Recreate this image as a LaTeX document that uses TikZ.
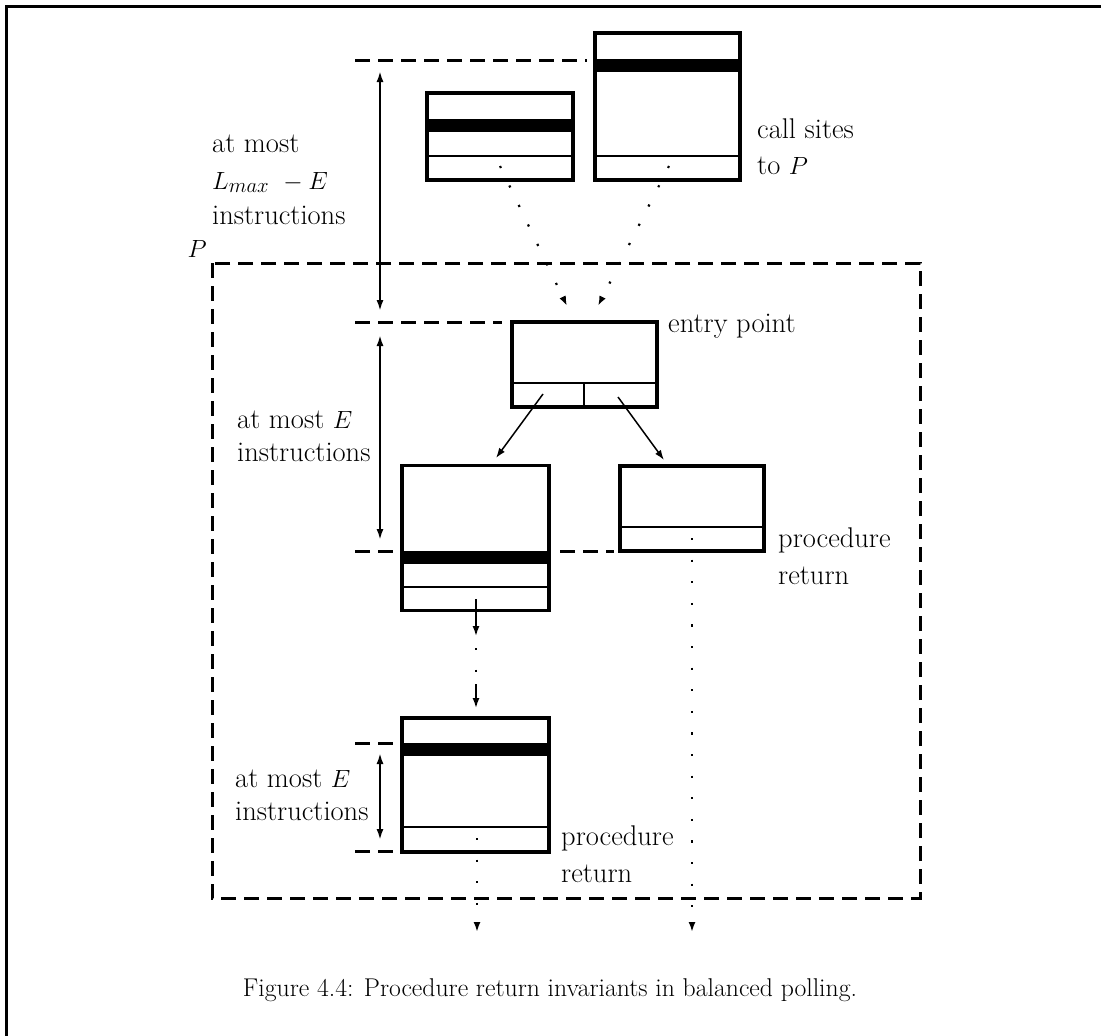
\documentclass[tikz,border=0pt]{standalone}
\usepackage{fontspec}
\usetikzlibrary{arrows.meta}
\begin{document}
\begin{tikzpicture}[x=1pt,y=-1pt,
  every node/.style={font=\fontsize{28.5}{34}\selectfont, inner sep=0pt},
  blk/.style={draw, line width=3.2pt, rectangle, inner sep=0pt},
  sep/.style={line width=2.8pt},
  guide/.style={line width=3pt, dash pattern=on 15pt off 8pt},
  dots/.style={line width=2.2pt, dash pattern=on 2.2pt off 19.4pt},
  tip/.style={-{Latex[length=10pt,width=7pt]}},
  measure/.style={line width=2pt, {Latex[length=11pt,width=7pt]}-{Latex[length=11pt,width=7pt]}},
  flow/.style={line width=1.5pt, tip},
  lbl/.style={anchor=mid west}
]
\useasboundingbox (0,0) rectangle (1101,1036);
% page frame
\draw[line width=3pt] (6,1036) -- (6,6) -- (1101,6);

% call sites
\node[blk, minimum width=146pt, minimum height=87pt] (cs1) at (500,136.5) {};
\fill (cs1.west |- 0,119) rectangle (cs1.east |- 0,132);
\draw[sep] (cs1.west |- 0,156) -- (cs1.east |- 0,156);
\node[blk, minimum width=145pt, minimum height=147pt] (cs2) at (667.5,106.5) {};
\fill (cs2.west |- 0,59) rectangle (cs2.east |- 0,72);
\draw[sep] (cs2.west |- 0,156) -- (cs2.east |- 0,156);
\coordinate (cs1dot) at (500,166);
\coordinate (cs2dot) at (669,166);
\node[lbl] (callA) at (757,136) {call sites};
\node[lbl] (callB) at (757,172) {to $P$};

% procedure P
\draw[guide] (212,263) rectangle (920,898);
\node[lbl, anchor=mid east] (pname) at (207,255) {$P$};

% upper bound before the entry point
\coordinate (g1a) at (355,60);
\coordinate (g1b) at (587,60);
\draw[guide] (g1a) -- (g1b);
\coordinate (g2a) at (355,322);
\coordinate (g2b) at (502,322);
\draw[guide] (g2a) -- (g2b);
\draw[measure] (380,71) -- (380,311);
\node[lbl] (lmA) at (212,150) {at most};
\node[lbl] (lmB) at (212,187) {$L_{max}\ - E$};
\node[lbl] (lmC) at (212,222) {instructions};

% entry point
\node[blk, minimum width=145pt, minimum height=85pt] (entry) at (584.5,364.5) {};
\draw[sep] (entry.west |- 0,383) -- (entry.east |- 0,383);
\draw[sep] (584,383) -- (entry.south -| 584,0);
\node[lbl] (entrylbl) at (668,330) {entry point};
\draw[dots, tip] (cs1dot) -- (567,306);
\draw[dots, tip] (cs2dot) -- (598,306);

% first-level blocks
\node[blk, minimum width=147pt, minimum height=145pt] (b3) at (475.5,538) {};
\fill (b3.west |- 0,551) rectangle (b3.east |- 0,564);
\draw[sep] (b3.west |- 0,587) -- (b3.east |- 0,587);
\node[blk, minimum width=144pt, minimum height=85pt] (b4) at (692,508.5) {};
\draw[sep] (b4.west |- 0,527) -- (b4.east |- 0,527);
\coordinate (eL) at (543,394);
\coordinate (eR) at (618,397);
\draw[flow] (eL) -- (496,458);
\draw[flow] (eR) -- (664,460);

\draw[measure] (380,335) -- (380,540);
\node[lbl] (meA) at (237,426) {at most $E$};
\node[lbl] (meB) at (237,459) {instructions};
\coordinate (g3a) at (355,551);
\coordinate (g3b) at (394,551);
\draw[guide] (g3a) -- (g3b);
\coordinate (g4a) at (560,551);
\coordinate (g4b) at (614,551);
\draw[guide] (g4a) -- (g4b);
\node[lbl] (ret1A) at (778,545) {procedure};
\node[lbl] (ret1B) at (778,582) {return};

% chain down to the last block
\coordinate (c1) at (476,599);
\coordinate (c2) at (476,636);
\coordinate (c3) at (476,684);
\coordinate (c4) at (476,708);
\draw[flow] (c1) -- (c2);
\draw[dots] (476,648) -- (476,675);
\draw[flow] (c3) -- (c4);

\node[blk, minimum width=147pt, minimum height=134pt] (b5) at (475.5,785) {};
\fill (b5.west |- 0,743) rectangle (b5.east |- 0,756);
\draw[sep] (b5.west |- 0,827) -- (b5.east |- 0,827);
\coordinate (g5a) at (355,743);
\coordinate (g5b) at (394,743);
\draw[guide] (g5a) -- (g5b);
\coordinate (g6a) at (355,851);
\coordinate (g6b) at (394,851);
\draw[guide] (g6a) -- (g6b);
\draw[measure] (380,753) -- (380,840);
\node[lbl] (leA) at (235,785) {at most $E$};
\node[lbl] (leB) at (235,818) {instructions};
\node[lbl] (ret2A) at (561,843) {procedure};
\node[lbl] (ret2B) at (561,880) {return};

% returns leaving P
\coordinate (b5dot) at (477,838);
\coordinate (b4dot) at (692,538);
\draw[dots, tip] (b5dot) -- (477,932);
\draw[dots, tip] (b4dot) -- (692,932);

\node[font=\fontsize{25.7}{30}\selectfont] (cap) at (550,990) {Figure 4.4: Procedure return invariants in balanced polling.};
\end{tikzpicture}
\end{document}
